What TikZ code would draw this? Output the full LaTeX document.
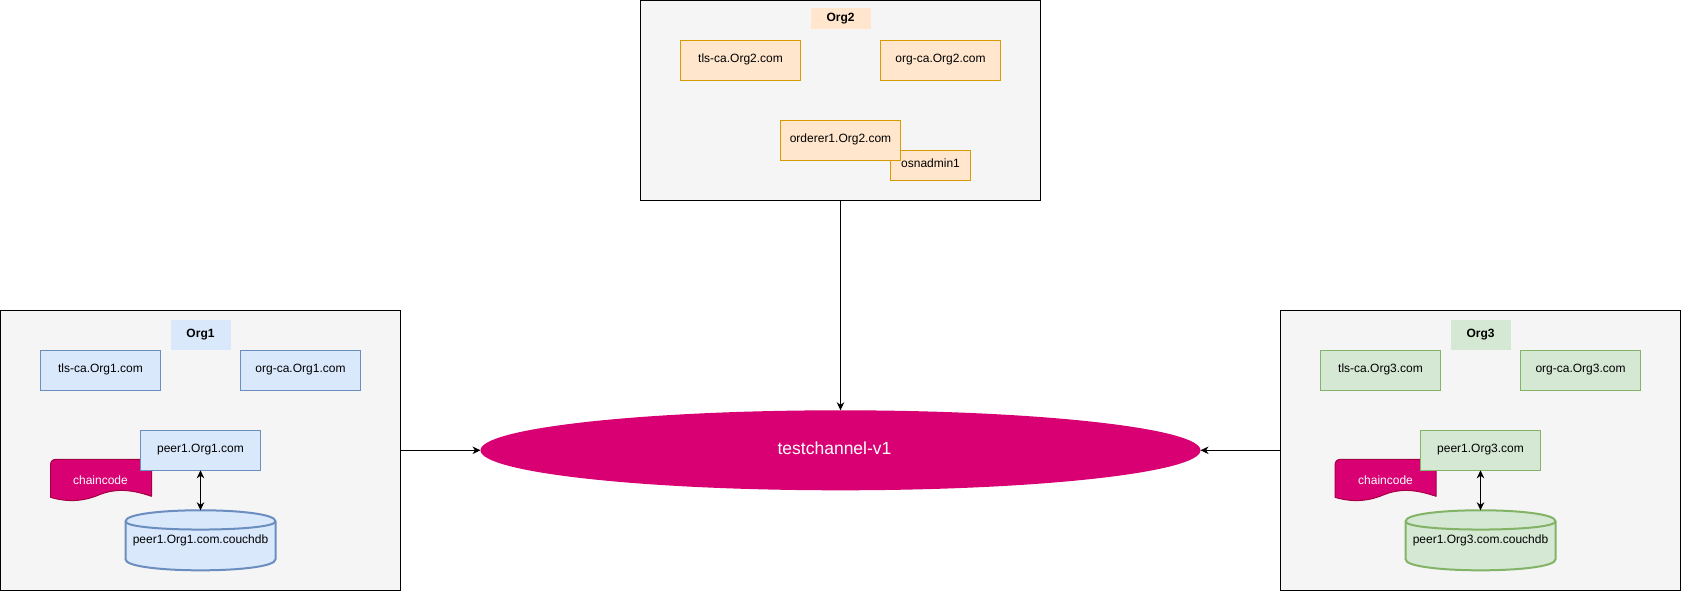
\documentclass[tikz,border=0pt]{standalone}
\usepackage{fontspec}
\setmainfont{Liberation Sans}
\usetikzlibrary{arrows.meta,shapes.geometric}
\definecolor{panelfill}{HTML}{F5F5F5}
\definecolor{bluefill}{HTML}{DAE8FC}
\definecolor{bluedraw}{HTML}{6C8EBF}
\definecolor{orangefill}{HTML}{FFE6CC}
\definecolor{orangedraw}{HTML}{D79B00}
\definecolor{greenfill}{HTML}{D5E8D4}
\definecolor{greendraw}{HTML}{82B366}
\definecolor{magentafill}{HTML}{D80073}
\definecolor{magentadraw}{HTML}{A50040}
\tikzset{
  base/.style={inner sep=0pt,outer sep=0pt,line width=1pt,text height=9pt,text depth=4pt,
    font=\fontsize{12pt}{14pt}\selectfont,text=black},
  panel/.style={base,draw=black,fill=panelfill,minimum width=400pt,minimum height=#1},
  svc/.style={base,minimum width=120pt,minimum height=40pt},
  title/.style={base,font=\fontsize{12pt}{14pt}\selectfont\bfseries,minimum width=60pt},
  blueset/.style={draw=bluedraw,fill=bluefill},
  orangeset/.style={draw=orangedraw,fill=orangefill},
  greenset/.style={draw=greendraw,fill=greenfill},
  dbtext/.style={base,minimum width=150pt,minimum height=60pt,text height=9pt,text depth=3pt},
  conn/.style={line width=1pt,draw=black,-{Stealth[length=8pt,width=7.5pt,inset=2.5pt]}},
  biconn/.style={line width=1pt,draw=black,{Stealth[length=8pt,width=7.5pt,inset=2.5pt]}-{Stealth[length=8pt,width=7.5pt,inset=2.5pt]}},
  channel/.style={ellipse,inner sep=0pt,outer sep=0pt,minimum width=720pt,minimum height=80pt,
    fill=magentafill,text=white,font=\fontsize{17.5pt}{20pt}\selectfont,text height=13pt,text depth=5pt},
  docshape/.style={line width=1pt,draw=magentadraw,fill=magentafill,line join=round},
  doctext/.style={base,text=white},
  cyl/.style={line width=2pt}
}
\newcommand{\cylpath}[1]{%
  \begin{scope}[shift={(#1,510)}]
    \path[cyl,preaction={fill}] (-75,11) .. controls (-75,-3.7) and (75,-3.7) .. (75,11)
      -- (75,49) .. controls (75,63.7) and (-75,63.7) .. (-75,49) -- cycle;
    \draw[cyl] (-75,11) .. controls (-75,-3.7) and (75,-3.7) .. (75,11)
      -- (75,49) .. controls (75,63.7) and (-75,63.7) .. (-75,49) -- cycle;
    \draw[cyl] (-75,11) .. controls (-75,22) and (75,22) .. (75,11);
  \end{scope}}
\newcommand{\docpath}[1]{%
  \begin{scope}[shift={(#1,0)}]
    \draw[docshape] (50,497) -- (50,465) .. controls (50,461) and (52,459) .. (56,459)
      -- (151,459) -- (151,496) .. controls (128,488) and (113,489) .. (100,494)
      .. controls (86,500) and (70,503) .. (50,497) -- cycle;
  \end{scope}}
\begin{document}
\begin{tikzpicture}[x=1pt,y=-1pt]
\useasboundingbox (-0.5,-0.3) rectangle (1680.5,590.7);
\fill[white] (-0.5,-0.3) rectangle (1680.5,590.7);

% panels
\node[panel=280pt] (org1) at (200,450) {};
\node[panel=200pt] (org2) at (840,100) {};
\node[panel=280pt] (org3) at (1480,450) {};

% channel
\node[channel] (chan) at (840,450) {testchannel-v1\kern12pt};

% Org1
\node[title,fill=bluefill,minimum height=30pt] (t1) at (200,335) {Org1};
\node[svc,blueset] (tls1) at (100,370) {tls-ca.Org1.com};
\node[svc,blueset] (ca1) at (300,370) {org-ca.Org1.com};
\docpath{0}
\node[doctext] (cc1) at (100,481.5) {chaincode};
\node[svc,blueset] (peer1) at (200,450) {peer1.Org1.com};
\begin{scope}[draw=bluedraw,fill=bluefill]\cylpath{200}\end{scope}
\node[dbtext] (db1) at (200,540) {peer1.Org1.com.couchdb};

% Org2
\node[title,fill=orangefill,minimum height=21pt] (t2) at (840,18.5) {Org2};
\node[svc,orangeset] (tls2) at (740,60) {tls-ca.Org2.com};
\node[svc,orangeset] (ca2) at (940,60) {org-ca.Org2.com};
\node[base,orangeset,minimum width=80pt,minimum height=30pt] (osn) at (930,165) {osnadmin1};
\node[svc,orangeset] (ord) at (840,140) {orderer1.Org2.com};

% Org3
\node[title,fill=greenfill,minimum height=30pt] (t3) at (1480,335) {Org3};
\node[svc,greenset] (tls3) at (1380,370) {tls-ca.Org3.com};
\node[svc,greenset] (ca3) at (1580,370) {org-ca.Org3.com};
\docpath{1284.5}
\node[doctext] (cc3) at (1385,481.5) {chaincode};
\node[svc,greenset] (peer3) at (1480,450) {peer1.Org3.com};
\begin{scope}[draw=greendraw,fill=greenfill]\cylpath{1480}\end{scope}
\node[dbtext] (db3) at (1480,540) {peer1.Org3.com.couchdb};

% connectors
\draw[conn] (org1.east) -- (chan.west);
\draw[conn] (org3.west) -- (chan.east);
\draw[conn] (org2.south) -- (chan.north);
\draw[biconn] (peer1.south) -- (db1.north);
\draw[biconn] (peer3.south) -- (db3.north);
\end{tikzpicture}
\end{document}
